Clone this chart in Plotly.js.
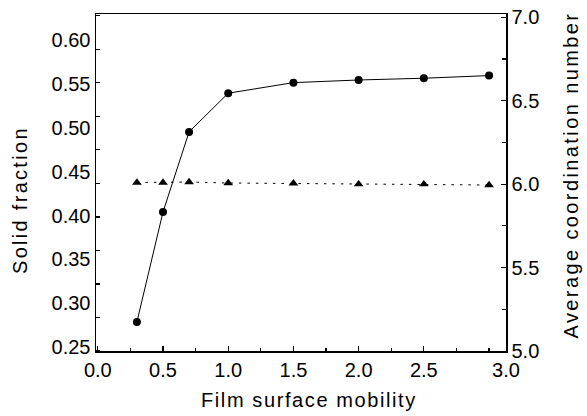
<!DOCTYPE html>
<html>
<head>
<meta charset="utf-8">
<script src="https://cdn.plot.ly/plotly-3.0.1.min.js"></script>
<style>
html,body{margin:0;padding:0;background:#fff;}
#chart{width:587px;height:416px;}
</style>
</head>
<body>
<div id="chart"></div>
<script>
// Data
const mobility = [0.3, 0.5, 0.7, 1.0, 1.5, 2.0, 2.5, 3.0];
const solidFraction = [0.279, 0.404, 0.495, 0.539, 0.551, 0.554, 0.556, 0.559];
const coordNumber = [6.01, 6.01, 6.013, 6.007, 6.005, 6.0, 6.0, 5.995];

const xTickVals = [0, 0.5, 1.0, 1.5, 2.0, 2.5];
const xTickText = ['0.0', '0.5', '1.0', '1.5', '2.0', '2.5', '3.0'];
const yLeftTicks = [0.25, 0.30, 0.35, 0.40, 0.45, 0.50, 0.55, 0.60];
const yRightTicks = [5.0, 5.5, 6.0, 6.5, 7.0];

const xRange = [-0.0138, 3.130];
const yLeftRange = [0.246, 0.629];
const yRightRange = [5.0, 7.02];

const FONT = 'Liberation Sans, Arial, Helvetica, sans-serif';
const tickFont = {family: FONT, size: 20, color: '#000'};

const traces = [
  {
    x: mobility, y: solidFraction, type: 'scatter', mode: 'lines+markers',
    line: {color: '#000', width: 1},
    marker: {symbol: 'circle', size: 8, color: '#000'},
    xaxis: 'x', yaxis: 'y', showlegend: false, hoverinfo: 'none'
  },
  {
    x: mobility, y: coordNumber, type: 'scatter', mode: 'lines+markers',
    line: {color: '#000', width: 1, dash: '2.5px,6px'},
    marker: {symbol: 'triangle-up', size: 8.5, color: '#000'},
    xaxis: 'x', yaxis: 'y2', showlegend: false, hoverinfo: 'none'
  }
];

const layout = {
  width: 587, height: 416,
  margin: {l: 96, r: 81, t: 14, b: 65, pad: 0},
  paper_bgcolor: '#fff', plot_bgcolor: '#fff',
  showlegend: false,
  xaxis: {
    range: xRange, showgrid: false, zeroline: false,
    showline: true, linecolor: '#000', linewidth: 1.5, mirror: true,
    tickmode: 'array', tickvals: xTickVals.concat([xRange[1]]), ticktext: xTickText,
    ticks: 'inside', ticklen: 5, tickwidth: 1.2, tickcolor: '#000',
    minor: {dtick: 0.25, tick0: 0, ticks: 'inside', ticklen: 3.5, tickwidth: 1.2, tickcolor: '#000'},
    tickfont: tickFont
  },
  yaxis: {
    range: yLeftRange, showgrid: false, zeroline: false,
    showline: true, linecolor: '#000', linewidth: 1.5,
    tickmode: 'array', tickvals: yLeftTicks, tickformat: '.2f',
    ticks: '', tickfont: tickFont,
    minor: {tick0: yLeftRange[0], dtick: 0.0381, ticks: 'inside', ticklen: 4, tickwidth: 1.2, tickcolor: '#000'}
  },
  yaxis2: {
    range: yRightRange, overlaying: 'y', side: 'right', showgrid: false, zeroline: false,
    showline: true, linecolor: '#000', linewidth: 1.5,
    tickmode: 'array', tickvals: yRightTicks, tickformat: '.1f',
    ticks: 'inside', ticklen: 5, tickwidth: 1.2, tickcolor: '#000',
    minor: {dtick: 0.25, tick0: 5, ticks: 'inside', ticklen: 4, tickwidth: 1.2, tickcolor: '#000'},
    tickfont: tickFont
  },
  annotations: [
    {text: '<span style="letter-spacing:2.3px">Solid fraction</span>', xref: 'paper', yref: 'paper',
     x: -0.1854, y: 0.448, textangle: -90, showarrow: false, xanchor: 'center', yanchor: 'middle',
     font: {family: FONT, size: 20, color: '#000'}},
    {text: '<span style="letter-spacing:2.4px">Average coordination number</span>', xref: 'paper', yref: 'paper',
     x: 1.1573, y: 0.5223, textangle: -90, showarrow: false, xanchor: 'center', yanchor: 'middle',
     font: {family: FONT, size: 20, color: '#000'}},
    {text: '<span style="letter-spacing:1.6px">Film surface mobility</span>', xref: 'paper', yref: 'paper',
     x: 0.5195, y: -0.1454, showarrow: false, xanchor: 'center', yanchor: 'middle',
     font: {family: FONT, size: 20, color: '#000'}}
  ]
};

Plotly.newPlot('chart', traces, layout, {staticPlot: true, displayModeBar: false});
</script>
</body>
</html>
